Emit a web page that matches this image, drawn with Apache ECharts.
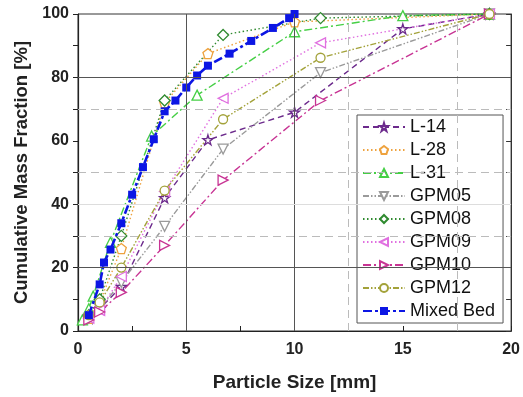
<!DOCTYPE html>
<html>
<head>
<meta charset="utf-8">
<script src="https://cdn.jsdelivr.net/npm/echarts@6/dist/echarts.min.js"></script>
<style>
  html, body { margin: 0; padding: 0; background: #fff; }
  #chart { width: 523px; height: 397px; }
</style>
</head>
<body>
<div id="chart"></div>
<script>
// sieve sizes [mm] and cumulative mass fraction [%]
const xGPM = [0.5, 1, 2, 4, 6.7, 11.2, 19];
const gpm05 = [4, 7, 15.4, 33, 57.4, 81.5, 100];
const gpm08 = [5, 10, 30, 72.7, 93.4, 98.7, 100];
const gpm09 = [4, 6.5, 17.2, 44, 73.4, 90.9, 100];
const gpm10 = [3.5, 6, 12.2, 27, 47.6, 72.7, 100];
const gpm12 = [5, 9, 20, 44.3, 66.8, 86.2, 100];

const xL14 = [0.5, 1, 2, 4, 6, 10, 15, 19];
const l14 = [4, 7, 14, 42, 60.3, 69, 95.3, 100];
const xL28 = [0.5, 1, 2, 4, 6, 10, 19];
const l28 = [4, 9, 26, 72, 87.5, 97.5, 100];
const xL31 = [0.2, 0.5, 0.7, 1.5, 3.4, 5.5, 10, 15, 19];
const l31 = [3.5, 7, 11, 28, 61.5, 74.4, 94.4, 99.5, 100];

const xMixed = [0.5, 1, 1.2, 1.5, 2, 2.5, 3, 3.5, 4, 4.5, 5, 5.5, 6, 7, 8, 9, 9.75, 10];
const mixed = [5, 14.7, 21.6, 25.7, 34, 43, 51.7, 60.5, 69.3, 72.7, 76.8, 80.6, 83.7, 87.5, 91.5, 95.6, 98.7, 100];

const STAR = 'path://M50,0 L61,35 L98,35 L68,57 L79,91 L50,70 L21,91 L32,57 L2,35 L39,35 Z';
const PENTA = 'path://M50,0 L98,35 L79,91 L21,91 L2,35 Z';

const FONT = 'Liberation Sans, Arial, sans-serif';

function pts(xs, ys) {
  return xs.map((x, i) => [x, ys[i]]);
}

function curve(name, xs, ys, color, dash, symbol, opts) {
  opts = opts || {};
  return {
    name: name,
    type: 'line',
    data: pts(xs, ys),
    symbol: symbol,
    symbolSize: opts.size || 10,
    symbolRotate: opts.rotate || 0,
    lineStyle: { color: color, width: opts.width || 1.4, type: dash },
    itemStyle: {
      color: opts.filled ? color : '#fff',
      borderColor: color,
      borderWidth: opts.filled ? 0 : 1.3
    },
    z: opts.z || 3
  };
}

const dashed = [6, 4];
const dotted = [1.5, 2.5];
const dashDot = [8, 3, 2, 3];
const dashDotDot = [6, 2, 1.5, 2, 1.5, 2];

const darkGrid = { color: '#555', type: 'solid', width: 1 };
const lightGrid = { color: '#bbb', type: [8, 5], width: 1 };

const chart = echarts.init(document.getElementById('chart'));
chart.setOption({
  animation: false,
  backgroundColor: '#fff',
  textStyle: { fontFamily: FONT },
  grid: {
    left: 78, right: 10, top: 14, bottom: 64,
    show: true, borderColor: '#333', borderWidth: 1
  },
  legend: {
    orient: 'vertical',
    left: 357, top: 115,
    padding: [3, 8, 3, 5],
    itemGap: 5,
    itemWidth: 42,
    itemHeight: 10,
    backgroundColor: '#fff',
    borderColor: '#555',
    borderWidth: 1,
    textStyle: { fontSize: 18, color: '#111', fontFamily: FONT },
    data: ['L-14', 'L-28', 'L-31', 'GPM05', 'GPM08', 'GPM09', 'GPM10', 'GPM12', 'Mixed Bed']
  },
  xAxis: {
    type: 'value',
    min: 0, max: 20, interval: 5,
    name: 'Particle Size [mm]',
    nameLocation: 'middle',
    nameGap: 42,
    nameTextStyle: { fontSize: 19, fontWeight: 'bold', color: '#222' },
    axisLine: { show: true, lineStyle: { color: '#222', width: 1.2 } },
    axisTick: { show: true, inside: true, length: 5, lineStyle: { color: '#222' } },
    minorTick: { show: true, splitNumber: 2, length: 5, lineStyle: { color: '#222' } },
    axisLabel: { fontSize: 16, fontWeight: 'bold', color: '#222', margin: 11 },
    splitLine: { show: false }
  },
  yAxis: [
    {
      type: 'value',
      min: 0, max: 100, interval: 20,
      name: 'Cumulative Mass Fraction [%]',
      nameLocation: 'middle',
      nameGap: 46,
      nameTextStyle: { fontSize: 18.5, fontWeight: 'bold', color: '#222' },
      axisLine: { show: true, lineStyle: { color: '#222', width: 1.2 } },
      axisTick: { show: true, length: 5, lineStyle: { color: '#222' } },
      minorTick: { show: true, splitNumber: 2, length: 5, lineStyle: { color: '#222' } },
      axisLabel: { fontSize: 16, fontWeight: 'bold', color: '#222', margin: 9 },
      splitLine: { show: false }
    },
    {
      type: 'value',
      position: 'right',
      min: 0, max: 100, interval: 10,
      axisLine: { show: true, lineStyle: { color: '#333' } },
      axisTick: { show: true, inside: true, length: 5, lineStyle: { color: '#333' } },
      axisLabel: { show: false },
      splitLine: { show: false }
    }
  ],
  series: [
    {
      name: 'grid',
      type: 'line',
      data: [],
      silent: true,
      z: 1,
      markLine: {
        silent: true,
        symbol: 'none',
        label: { show: false },
        data: [
          { xAxis: 5, lineStyle: darkGrid },
          { xAxis: 10, lineStyle: darkGrid },
          { xAxis: 12.5, lineStyle: lightGrid },
          { xAxis: 17.5, lineStyle: lightGrid },
          { yAxis: 20, lineStyle: darkGrid },
          { yAxis: 80, lineStyle: darkGrid },
          { yAxis: 40, lineStyle: { color: '#ddd', type: 'solid', width: 1 } },
          { yAxis: 30, lineStyle: lightGrid },
          { yAxis: 50, lineStyle: lightGrid },
          { yAxis: 70, lineStyle: lightGrid }
        ]
      }
    },
    curve('L-14', xL14, l14, '#6c2a8c', dashed, STAR, { size: 10 }),
    curve('L-28', xL28, l28, '#eea23e', dotted, PENTA, { size: 10 }),
    curve('L-31', xL31, l31, '#45cf45', dashDot, 'triangle', { size: 10 }),
    curve('GPM05', xGPM, gpm05, '#9a9a9a', dashDotDot, 'triangle', { size: 10, rotate: 180 }),
    curve('GPM08', xGPM, gpm08, '#2f8a2f', dotted, 'diamond', { size: 11 }),
    curve('GPM09', xGPM, gpm09, '#e070e0', dotted, 'triangle', { size: 10, rotate: 90 }),
    curve('GPM10', xGPM, gpm10, '#c83494', dashDot, 'triangle', { size: 10, rotate: -90 }),
    curve('GPM12', xGPM, gpm12, '#a3a23a', dashDotDot, 'circle', { size: 9 }),
    curve('Mixed Bed', xMixed, mixed, '#0c16e4', [9, 3, 3, 3], 'rect', { size: 8, width: 2.6, filled: true, z: 4 })
  ]
});
</script>
</body>
</html>
